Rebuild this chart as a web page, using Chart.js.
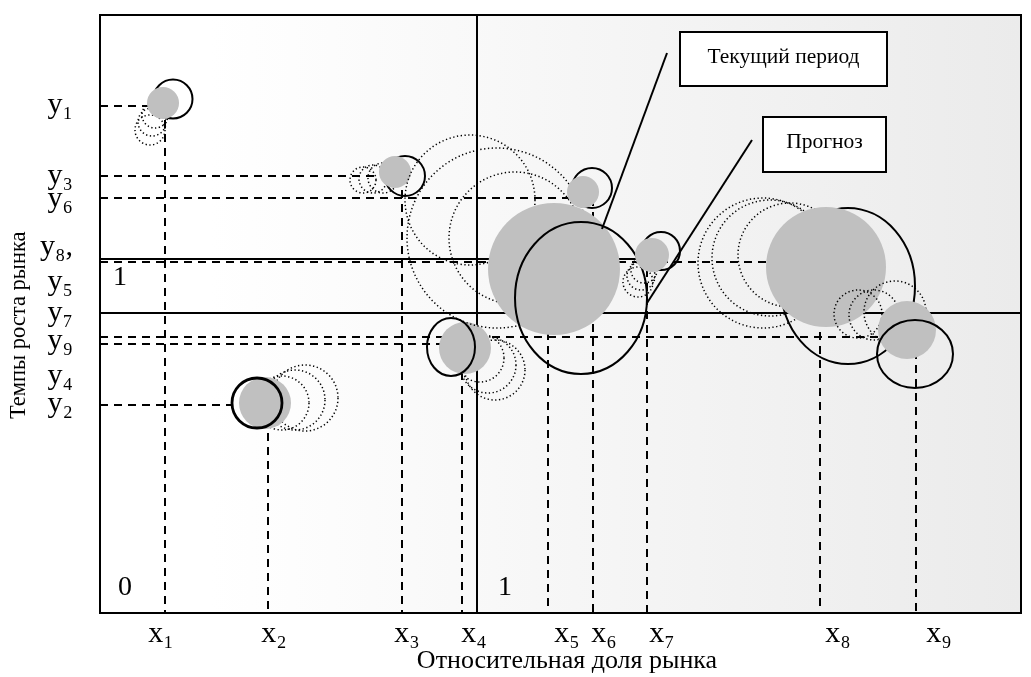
<!DOCTYPE html>
<html lang="ru">
<head>
<meta charset="utf-8">
<title>Матрица: относительная доля и темпы роста рынка</title>
<script src="https://cdn.jsdelivr.net/npm/chart.js@4.4.1/dist/chart.umd.min.js"></script>
<style>
  html, body { margin: 0; padding: 0; background: #fff; }
  #wrap { width: 1031px; height: 677px; }
</style>
</head>
<body>
<div id="wrap"><canvas id="chartMatriz"></canvas></div>
<script>
// plot units: share 0..921, growth 0..598
const shareMax = 921;
const growthMax = 598;

// current period (gray bubbles)
const shareNow  = [63, 165, 295, 365, 454, 483, 552, 726, 807];
const growthNow = [510, 210, 441, 265, 344, 421, 358, 346, 283];
const sizeNow   = [16, 26, 16, 26, 66, 16, 17, 60, 29];

// forecast (solid outlines), width / height of the outline
const shareNext  = [73, 157, 305, 351, 481, 492, 561, 748, 815];
const growthNext = [514, 210, 437, 266, 315, 425, 362, 327, 259];
const sizeNextW  = [19.5, 25, 20, 24, 66, 20, 19, 67, 38];
const sizeNextH  = [19.5, 25, 20, 29, 76, 20, 19, 78, 34];

// earlier periods (dotted outlines): [share, growth, size]
const history = [
  [[50, 483, 15], [52, 491, 14], [55, 498, 13]],
  [[182, 210, 27], [195, 213, 30], [205, 215, 33]],
  [[263, 433, 13], [273, 434, 14], [283, 435, 15]],
  [[380, 255, 24], [388, 248, 28], [395, 243, 30]],
  [[370, 413, 65], [397, 375, 90], [415, 375, 66]],
  [],
  [[538, 331, 15], [541, 337, 14], [544, 343, 13]],
  [[663, 350, 65], [670, 355, 58], [690, 358, 52]],
  [[758, 299, 24], [774, 298, 25], [795, 301, 31]]
];

// dashed reading lines
const guideGrowth    = [507, 437, 415, 351, 276, 269, 208];
const guideGrowthEnd = [48, 280, 493, 720, 816, 362, 132];
const guideShare     = [65, 168, 302, 362, 448, 493, 547, 720, 816];
const guideShareTop  = [507, 208, 437, 269, 351, 415, 358, 351, 276];

// solid dividing lines
const splitShare = 377;
const splitGrowth    = [354, 300];
const splitGrowthEnd = [552, 921];

// tick labels
const xTickPos    = [61, 174, 307, 374, 467, 504, 562, 738, 839];
const xTickLabels = ['x₁', 'x₂', 'x₃', 'x₄', 'x₅', 'x₆', 'x₇', 'x₈', 'x₉'];
const yTickPos    = [508, 437, 414, 366, 331, 300, 272, 237, 209];
const yTickLabels = ['y₁', 'y₃', 'y₆', 'y₈,', 'y₅', 'y₇', 'y₉', 'y₄', 'y₂'];

// corner marks and callouts
const cornerText  = ['0', '1', '1'];
const cornerShare = [25, 20, 405];
const cornerGrowth = [25, 335, 25];
const callouts = [
  { text: 'Текущий период', x0: 580, x1: 787, y0: 581, y1: 527, from: [567, 560], to: [502, 384] },
  { text: 'Прогноз', x0: 663, x1: 786, y0: 496, y1: 441, from: [652, 473], to: [547, 310] }
];

const SERIF = "'Liberation Serif', 'Times New Roman', serif";
const nextOnTop = [false, true, false, true, true, false, false, false, true];
const nextWidth = [2, 2.8, 2, 2, 2, 2, 2, 2, 2];

function px(chart, sx, gy) {
  return [chart.scales.x.getPixelForValue(sx), chart.scales.y.getPixelForValue(gy)];
}

function clipArea(chart) {
  const a = chart.chartArea;
  chart.ctx.beginPath();
  chart.ctx.rect(a.left, a.top, a.right - a.left, a.bottom - a.top);
  chart.ctx.clip();
}

function outline(chart, sx, gy, rw, rh, dotted, width) {
  const ctx = chart.ctx;
  const [cx, cy] = px(chart, sx, gy);
  const rx = Math.abs(chart.scales.x.getPixelForValue(sx + rw) - cx);
  const ry = Math.abs(chart.scales.y.getPixelForValue(gy + rh) - cy);
  ctx.save();
  clipArea(chart);
  ctx.beginPath();
  ctx.ellipse(cx, cy, rx, ry, 0, 0, Math.PI * 2);
  ctx.strokeStyle = '#000';
  ctx.lineWidth = width;
  ctx.setLineDash(dotted ? [1.3, 2.5] : []);
  ctx.stroke();
  ctx.restore();
}

function line(ctx, x1, y1, x2, y2) {
  ctx.beginPath();
  ctx.moveTo(x1, y1);
  ctx.lineTo(x2, y2);
  ctx.stroke();
}

function drawForecast(chart, i) {
  outline(chart, shareNext[i], growthNext[i], sizeNextW[i], sizeNextH[i], false, nextWidth[i]);
}

const decor = {
  id: 'decor',
  beforeDraw(chart) {
    const { ctx, chartArea: a } = chart;
    const g = ctx.createLinearGradient(a.left, 0, a.right, 0);
    g.addColorStop(0, '#ffffff');
    g.addColorStop(0.12, '#ffffff');
    g.addColorStop(1, '#ebebeb');
    ctx.save();
    ctx.fillStyle = g;
    ctx.fillRect(a.left, a.top, a.right - a.left, a.bottom - a.top);
    ctx.restore();
  },
  beforeDatasetsDraw(chart) {
    const { ctx, scales: { x, y } } = chart;
    const left = x.getPixelForValue(0), bottom = y.getPixelForValue(0);
    ctx.save();
    clipArea(chart);
    ctx.strokeStyle = '#000';
    // dashed reading lines
    ctx.lineWidth = 2;
    ctx.setLineDash([8, 6]);
    guideGrowth.forEach((g, i) => {
      const yy = y.getPixelForValue(g);
      line(ctx, left, yy, x.getPixelForValue(guideGrowthEnd[i]), yy);
    });
    guideShare.forEach((s, i) => {
      const xx = x.getPixelForValue(s);
      line(ctx, xx, y.getPixelForValue(guideShareTop[i]), xx, bottom);
    });
    // solid quadrant lines
    ctx.setLineDash([]);
    const vx = x.getPixelForValue(splitShare);
    line(ctx, vx, y.getPixelForValue(growthMax), vx, bottom);
    splitGrowth.forEach((g, i) => {
      const yy = y.getPixelForValue(g);
      line(ctx, left, yy, x.getPixelForValue(splitGrowthEnd[i]), yy);
    });
    ctx.restore();
  },
  beforeDatasetDraw(chart, args) {
    const i = args.index;
    history[i].forEach(h => outline(chart, h[0], h[1], h[2], h[2], true, 1.5));
    if (!nextOnTop[i]) drawForecast(chart, i);
  },
  afterDatasetDraw(chart, args) {
    if (nextOnTop[args.index]) drawForecast(chart, args.index);
  },
  afterDatasetsDraw(chart) {
    const { ctx, chartArea: a } = chart;
    ctx.save();
    ctx.fillStyle = '#000';
    ctx.font = '28px ' + SERIF;
    ctx.textAlign = 'center';
    ctx.textBaseline = 'middle';
    cornerText.forEach((t, i) => {
      const [tx, ty] = px(chart, cornerShare[i], cornerGrowth[i]);
      ctx.fillText(t, tx, ty);
    });
    // callouts
    ctx.strokeStyle = '#000';
    ctx.lineWidth = 2;
    ctx.font = '21.5px ' + SERIF;
    callouts.forEach(c => {
      const [fx, fy] = px(chart, c.from[0], c.from[1]);
      const [tx, ty] = px(chart, c.to[0], c.to[1]);
      line(ctx, fx, fy, tx, ty);
      const [bx0, by0] = px(chart, c.x0, c.y0);
      const [bx1, by1] = px(chart, c.x1, c.y1);
      ctx.fillStyle = '#fff';
      ctx.fillRect(bx0, by0, bx1 - bx0, by1 - by0);
      ctx.strokeRect(bx0, by0, bx1 - bx0, by1 - by0);
      ctx.fillStyle = '#000';
      ctx.fillText(c.text, (bx0 + bx1) / 2, (by0 + by1) / 2 - 2);
    });
    // frame
    ctx.strokeRect(a.left, a.top, a.right - a.left, a.bottom - a.top);
    ctx.restore();
  }
};

const datasets = shareNow.map((s, i) => ({
  label: 'x' + (i + 1),
  data: [{ x: s, y: growthNow[i], r: sizeNow[i] }],
  backgroundColor: '#c0c0c0',
  borderWidth: 0,
  order: shareNow.length - i
}));

new Chart(document.getElementById('chartMatriz'), {
  type: 'bubble',
  data: { datasets },
  plugins: [decor],
  options: {
    responsive: true,
    maintainAspectRatio: false,
    animation: false,
    events: [],
    layout: { autoPadding: false, padding: { top: 15, right: 10, left: 0, bottom: 0 } },
    plugins: { legend: { display: false }, tooltip: { enabled: false } },
    scales: {
      x: {
        type: 'linear',
        min: 0,
        max: shareMax,
        grid: { display: false, drawTicks: false },
        border: { display: false },
        afterBuildTicks: sc => { sc.ticks = xTickPos.map(v => ({ value: v })); },
        afterFit: sc => { sc.height = 64; sc.paddingLeft = 0; sc.paddingRight = 0; },
        ticks: {
          autoSkip: false,
          maxRotation: 0,
          padding: 3,
          color: '#000',
          font: { family: SERIF, size: 30 },
          callback: (v, i) => xTickLabels[i]
        },
        title: {
          display: true,
          text: '\u00a0\u00a0Относительная доля рынка',
          color: '#000',
          font: { family: SERIF, size: 26 },
          padding: { top: 0, bottom: 0 }
        }
      },
      y: {
        type: 'linear',
        min: 0,
        max: growthMax,
        grid: { display: false, drawTicks: false },
        border: { display: false },
        afterBuildTicks: sc => { sc.ticks = yTickPos.map(v => ({ value: v })); },
        afterFit: sc => { sc.width = 100; sc.paddingTop = 0; sc.paddingBottom = 0; },
        ticks: {
          autoSkip: false,
          padding: 27,
          color: '#000',
          font: { family: SERIF, size: 30 },
          callback: (v, i) => yTickLabels[i]
        },
        title: {
          display: true,
          text: 'Темпы роста рынка\u00a0\u00a0\u00a0\u00a0',
          color: '#000',
          font: { family: SERIF, size: 22.5 },
          padding: { top: 6, bottom: 0 }
        }
      }
    }
  }
});
</script>
</body>
</html>
